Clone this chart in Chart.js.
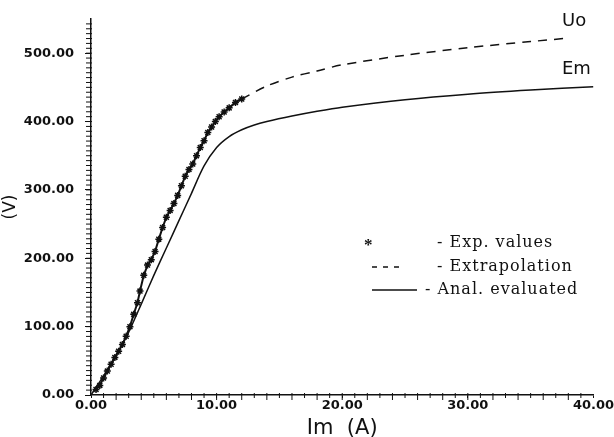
<!DOCTYPE html>
<html>
<head>
<meta charset="utf-8">
<script src="https://cdn.jsdelivr.net/npm/chart.js@4"></script>
<style>
  html, body { margin: 0; padding: 0; background: #fff; }
  #wrap { width: 614px; height: 437px; }
</style>
</head>
<body>
<div id="wrap"><canvas id="chart" width="614" height="437"></canvas></div>
<script>
// measured values (Im in A, voltage in V)
const expI = [0.4, 0.7, 1.0, 1.3, 1.6, 1.9, 2.2, 2.5, 2.8, 3.1, 3.4, 3.7, 3.9, 4.2, 4.5, 4.8, 5.1, 5.4, 5.7, 6.0, 6.3, 6.6, 6.9, 7.2, 7.5, 7.8, 8.1, 8.4, 8.7, 9.0, 9.3, 9.6, 9.9, 10.2, 10.6, 11.0, 11.5, 12.0];
const expU = [8, 14, 25, 35, 45, 55, 64, 74, 86, 100, 118, 135, 152, 175, 190, 198, 210, 228, 245, 260, 270, 280, 292, 306, 320, 330, 338, 350, 362, 372, 384, 392, 400, 407, 414, 420, 428, 433];

// extrapolated Uo
const extI = [12, 14, 16, 18, 20, 25, 30, 35, 38];
const extU = [433, 452, 465, 474, 483, 497, 508, 517, 522];

// analytically evaluated Em
const emI = [0, 1, 2, 3, 4, 5, 6, 7, 8, 9, 10, 11, 12, 13, 14, 16, 18, 20, 25, 30, 35, 40];
const emU = [0, 28, 58, 92, 133, 175, 215, 255, 295, 335, 362, 378, 388, 395, 400, 408, 415, 421, 432, 440, 446, 451];

const xTicks = [0, 10, 20, 30, 40];
const yTicks = [0, 100, 200, 300, 400, 500];
const legendLabels = ["- Exp. values", "- Extrapolation", "- Anal. evaluated"];

const ink = "#111";

function pts(xs, ys) {
  return xs.map((x, i) => ({ x: x, y: ys[i] }));
}

// small minor tick marks along both axes
const minorTicks = {
  id: "minorTicks",
  afterDraw(chart) {
    const ctx = chart.ctx;
    const xs = chart.scales.x, ys = chart.scales.y;
    ctx.save();
    ctx.strokeStyle = ink;
    ctx.lineWidth = 1;
    for (let v = 1; v < 40; v++) {
      const px = xs.getPixelForValue(v);
      ctx.beginPath();
      ctx.moveTo(px, ys.bottom - 2);
      ctx.lineTo(px, ys.bottom + (v % 2 ? 3 : 5));
      ctx.stroke();
    }
    for (let v = 100 / 14; v < 550; v += 100 / 14) {
      const py = ys.getPixelForValue(v);
      ctx.beginPath();
      ctx.moveTo(xs.left - 5, py);
      ctx.lineTo(xs.left + 1, py);
      ctx.stroke();
    }
    ctx.restore();
  }
};

// legend block and curve names
const notes = {
  id: "notes",
  afterDraw(chart) {
    const ctx = chart.ctx;
    ctx.save();
    ctx.fillStyle = ink;
    ctx.strokeStyle = ink;

    ctx.font = "18px 'DejaVu Sans', sans-serif";
    ctx.textBaseline = "middle";
    ctx.textAlign = "left";
    ctx.fillText("Uo", 562, 21);
    ctx.fillText("Em", 562, 69);

    ctx.font = "16px 'DejaVu Serif', serif";
    ctx.letterSpacing = "1px";
    const rows = [243, 267, 290];
    ctx.fillText(legendLabels[0], 437, rows[0]);
    ctx.fillText(legendLabels[1], 437, rows[1]);
    ctx.fillText(legendLabels[2], 425, rows[2]);
    ctx.letterSpacing = "0px";

    ctx.font = "bold 17px 'Liberation Serif', serif";
    ctx.fillText("*", 364, rows[0] + 3);

    ctx.lineWidth = 1.5;
    ctx.setLineDash([5, 6]);
    ctx.beginPath();
    ctx.moveTo(372, rows[1]);
    ctx.lineTo(405, rows[1]);
    ctx.stroke();
    ctx.setLineDash([]);
    ctx.beginPath();
    ctx.moveTo(372, rows[2]);
    ctx.lineTo(417, rows[2]);
    ctx.stroke();
    ctx.restore();
  }
};

new Chart(document.getElementById("chart"), {
  type: "scatter",
  data: {
    datasets: [
      {
        label: "Exp. values",
        data: pts(expI, expU),
        showLine: true,
        borderColor: ink,
        backgroundColor: ink,
        borderWidth: 2,
        pointStyle: "star",
        pointRadius: 3.5,
        pointBorderWidth: 1.5,
        order: 1
      },
      {
        label: "Extrapolation",
        data: pts(extI, extU),
        showLine: true,
        borderColor: ink,
        borderWidth: 1.5,
        borderDash: [9, 7],
        pointRadius: 0,
        tension: 0.3,
        order: 2
      },
      {
        label: "Anal. evaluated",
        data: pts(emI, emU),
        showLine: true,
        borderColor: ink,
        borderWidth: 1.5,
        pointRadius: 0,
        tension: 0.3,
        order: 3
      }
    ]
  },
  options: {
    responsive: false,
    animation: false,
    layout: { padding: { top: 19, right: 17, left: 0, bottom: 0 } },
    plugins: {
      legend: { display: false },
      tooltip: { enabled: false }
    },
    scales: {
      x: {
        type: "linear",
        min: 0,
        max: 40,
        afterBuildTicks: (s) => { s.ticks = xTicks.map((v) => ({ value: v })); },
        afterFit: (s) => { s.height = 42; },
        border: { display: true, color: ink, width: 1.5 },
        grid: { drawOnChartArea: false, drawTicks: true, tickLength: 3, color: ink },
        ticks: {
          color: ink,
          padding: 0,
          maxRotation: 0,
          font: { family: "'DejaVu Sans', sans-serif", size: 13, weight: "bold" },
          callback: (v) => Number(v).toFixed(2)
        },
        title: {
          display: true,
          text: "Im  (A)",
          color: ink,
          padding: { top: 0, bottom: -4 },
          font: { family: "'DejaVu Sans', sans-serif", size: 21 }
        }
      },
      y: {
        type: "linear",
        min: 0,
        max: 550,
        afterBuildTicks: (s) => { s.ticks = yTicks.map((v) => ({ value: v })); },
        afterFit: (s) => { s.width = 91; },
        border: { display: true, color: ink, width: 1.5 },
        grid: { drawOnChartArea: false, drawTicks: true, tickLength: 6, color: ink },
        ticks: {
          color: ink,
          padding: 11,
          font: { family: "'DejaVu Sans', sans-serif", size: 13, weight: "bold" },
          callback: (v) => Number(v).toFixed(2)
        },
        title: {
          display: true,
          text: "(V)",
          color: ink,
          padding: { top: 0, bottom: 0 },
          font: { family: "'DejaVu Sans', sans-serif", size: 17 }
        }
      }
    }
  },
  plugins: [minorTicks, notes]
});
</script>
</body>
</html>
